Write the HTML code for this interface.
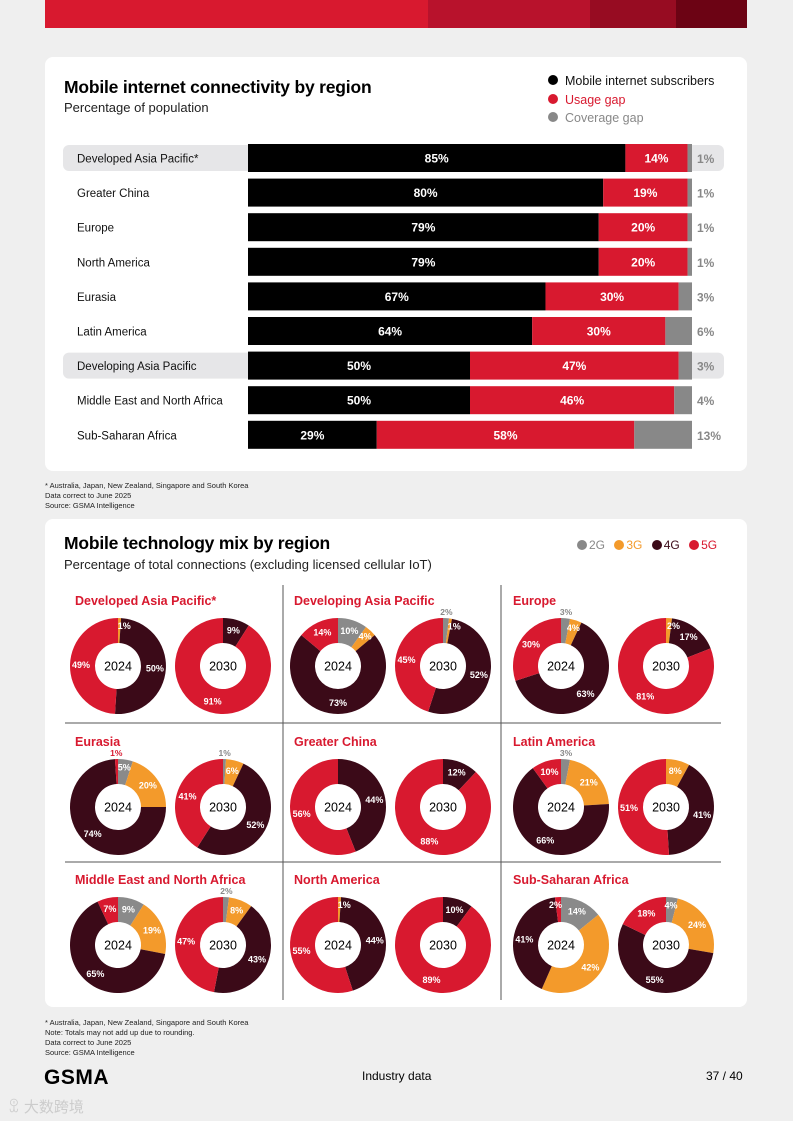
<!DOCTYPE html>
<html><head><meta charset="utf-8">
<style>
body{margin:0;width:793px;height:1121px;background:#efefef;font-family:"Liberation Sans",sans-serif;position:relative;overflow:hidden}
.abs{position:absolute}
.card{position:absolute;background:#fff;border-radius:8px}
h2{position:absolute;margin:0;font-size:17.5px;font-weight:bold;color:#000;letter-spacing:-0.2px}
.sub{position:absolute;font-size:13px;color:#222}
.note{position:absolute;left:45px;font-size:7.5px;color:#222;line-height:10px}
.lg span{margin-right:2px}
</style></head><body>
<div class="abs" style="left:45px;top:0;width:702px;height:28px;display:flex">
<div style="width:383px;background:#d8192f"></div><div style="width:162px;background:#b8122c"></div><div style="width:86px;background:#970c22"></div><div style="width:71px;background:#6c0314"></div></div>

<div class="card" style="left:45px;top:57px;width:702px;height:414px"></div>
<h2 style="left:64px;top:77px">Mobile internet connectivity by region</h2>
<div class="sub" style="left:64px;top:100px">Percentage of population</div>
<div class="abs" style="left:548px;top:72px;font-size:12.5px;line-height:18.5px">
<div><span style="display:inline-block;width:10px;height:10px;border-radius:5px;background:#000;margin-right:7px"></span><span style="color:#111">Mobile internet subscribers</span></div>
<div><span style="display:inline-block;width:10px;height:10px;border-radius:5px;background:#d8192f;margin-right:7px"></span><span style="color:#d8192f">Usage gap</span></div>
<div><span style="display:inline-block;width:10px;height:10px;border-radius:5px;background:#888;margin-right:7px"></span><span style="color:#888">Coverage gap</span></div></div>
<svg id="bars" class="abs" style="left:0;top:0" width="793" height="480"></svg>
<div class="note" style="top:481px">* Australia, Japan, New Zealand, Singapore and South Korea<br>Data correct to June 2025<br>Source: GSMA Intelligence</div>

<div class="card" style="left:45px;top:519px;width:702px;height:488px"></div>
<h2 style="left:64px;top:533px">Mobile technology mix by region</h2>
<div class="sub" style="left:64px;top:557px">Percentage of total connections (excluding licensed cellular IoT)</div>
<div class="abs lg" style="left:577px;top:538px;font-size:12px;color:#222;white-space:nowrap">
<span style="display:inline-block;width:10px;height:10px;border-radius:5px;background:#888;vertical-align:-1px"></span><span style="color:#888">2G</span>
<span style="display:inline-block;width:10px;height:10px;border-radius:5px;background:#f39a2b;vertical-align:-1px;margin-left:4px"></span><span style="color:#f39a2b">3G</span>
<span style="display:inline-block;width:10px;height:10px;border-radius:5px;background:#3b0a18;vertical-align:-1px;margin-left:4px"></span><span style="color:#3b0a18">4G</span>
<span style="display:inline-block;width:10px;height:10px;border-radius:5px;background:#d8192f;vertical-align:-1px;margin-left:4px"></span><span style="color:#d8192f">5G</span></div>
<svg id="donuts" class="abs" style="left:0;top:0" width="793" height="1010"></svg>
<div class="note" style="top:1018px">* Australia, Japan, New Zealand, Singapore and South Korea<br>Note: Totals may not add up due to rounding.<br>Data correct to June 2025<br>Source: GSMA Intelligence</div>

<div class="abs" style="left:44px;top:1066px;font-size:21px;font-weight:bold;letter-spacing:0.5px">GSMA</div>
<div class="abs" style="left:362px;top:1069px;font-size:12px">Industry data</div>
<div class="abs" style="left:706px;top:1069px;font-size:12px">37 / 40</div>
<div class="abs" style="left:8px;top:1096px;font-size:15px;color:#ccc;font-family:'Liberation Sans','Noto Sans CJK SC',sans-serif">ꀾ 大数跨境</div>

<script>
const regions=["Developed Asia Pacific*","Greater China","Europe","North America","Eurasia","Latin America","Developing Asia Pacific","Middle East and North Africa","Sub-Saharan Africa"];
const subscribers=[85,80,79,79,67,64,50,50,29];
const usageGap=[14,19,20,20,30,30,47,46,58];
const coverageGap=[1,1,1,1,3,6,3,4,13];
const highlighted=[true,false,false,false,false,false,true,false,false];

const NS="http://www.w3.org/2000/svg";
function mk(p,tag,a){const e=document.createElementNS(NS,tag);for(const k in a)e.setAttribute(k,a[k]);p.appendChild(e);return e;}
const bs=document.getElementById('bars');
const x0=248,scale=4.44;
const xb=v=>x0+v*scale;
const yb=i=>158+i*34.6;
regions.forEach((r,i)=>{
  const cy=yb(i);
  if(highlighted[i]){const p=mk(bs,'rect',{x:63,y:cy-13,width:661,height:26,rx:6,fill:'#e6e6e8'});
    
    }
  const t=mk(bs,'text',{x:77,y:cy+4.5,'font-size':11.5,fill:'#111'});t.textContent=r;
  
  
  const segs=[[subscribers[i],'#000'],[usageGap[i],'#d8192f'],[coverageGap[i],'#888']];
  let acc=0;
  segs.forEach((s,j)=>{
    const rc=mk(bs,'rect',{x:xb(acc),y:cy-14,width:s[0]*scale,height:28,fill:s[1]});
    
    
    if(j<2){const l=mk(bs,'text',{x:xb(acc+s[0]/2),y:cy+4.5,'font-size':12,'font-weight':'bold',fill:'#fff','text-anchor':'middle'});l.textContent=s[0]+'%';
      
      }
    acc+=s[0];
  });
  const l=mk(bs,'text',{x:697,y:cy+5,'font-size':12,'font-weight':'bold',fill:'#888'});l.textContent=coverageGap[i]+'%';
  
  
});

const donutRegions=["Developed Asia Pacific*","Developing Asia Pacific","Europe","Eurasia","Greater China","Latin America","Middle East and North Africa","North America","Sub-Saharan Africa"];
const mix2024=[[0,1,50,49],[10,4,73,14],[3,4,63,30],[5,20,74,1],[0,0,44,56],[3,21,66,10],[9,19,65,7],[0,1,44,55],[14,42,41,2]];
const mix2030=[[0,0,9,91],[2,1,52,45],[0,2,17,81],[1,6,52,41],[0,0,12,88],[0,8,41,51],[2,8,43,47],[0,0,10,89],[4,24,55,18]];
const techColors=['#8a8a8a','#f39a2b','#3b0a18','#d8192f'];
const ds=document.getElementById('donuts');
const colX=[65,284,503], rowY=[600,741,879];
mk(ds,'line',{x1:283,y1:585,x2:283,y2:1000,stroke:'#555','stroke-width':1});
mk(ds,'line',{x1:501,y1:585,x2:501,y2:1000,stroke:'#555','stroke-width':1});
mk(ds,'line',{x1:65,y1:723,x2:721,y2:723,stroke:'#555','stroke-width':1});
mk(ds,'line',{x1:65,y1:862,x2:721,y2:862,stroke:'#555','stroke-width':1});
function donut(cx,cy,vals,year){
  const R=48,r=23,tot=vals.reduce((a,b)=>a+b,0);let acc=0;
  const pt=(a,rad)=>[cx+rad*Math.sin(a),cy-rad*Math.cos(a)];
  const labels=[];
  vals.forEach((v,j)=>{
    if(v<=0)return;
    const a0=acc/tot*2*Math.PI,a1=(acc+v)/tot*2*Math.PI;acc+=v;
    const lg=(a1-a0)>Math.PI?1:0;
    let d;
    if(v>=tot){d=`M${cx} ${cy-R}A${R} ${R} 0 1 1 ${cx-0.01} ${cy-R}Z M${cx} ${cy-r}A${r} ${r} 0 1 0 ${cx-0.01} ${cy-r}Z`;}
    else{const p0=pt(a0,R),p1=pt(a1,R),q1=pt(a1,r),q0=pt(a0,r);
    d=`M${p0[0]} ${p0[1]}A${R} ${R} 0 ${lg} 1 ${p1[0]} ${p1[1]}L${q1[0]} ${q1[1]}A${r} ${r} 0 ${lg} 0 ${q0[0]} ${q0[1]}Z`;}
    const s=mk(ds,'path',{d:d,fill:techColors[j],'fill-rule':'evenodd'});
    
    
    labels.push([v,j,(a0+a1)/2]);
  });
  labels.forEach(([v,j,am])=>{
    const outside=(j==0&&v<=3)||(j==3&&v<=1);
    let lp=pt(am,outside?54:(v<6?40:37));
    if(!outside&&v<=2){lp=[lp[0]+(j==3?-3:5),lp[1]];}
    const t=mk(ds,'text',{x:lp[0],y:lp[1]+3,'font-size':outside?8.5:9,'font-weight':'bold','text-anchor':'middle',fill:outside?(j==3?'#d8192f':'#888'):'#fff'});
    t.textContent=v+'%';
    
    
  });
  const y=mk(ds,'text',{x:cx,y:cy+4.5,'font-size':12.5,'text-anchor':'middle',fill:'#000'});y.textContent=year;
  
  
}
donutRegions.forEach((n,i)=>{
  const c=i%3,rw=Math.floor(i/3);
  const bx=colX[c]+10,ty=rowY[rw];
  const t=mk(ds,'text',{x:bx,y:ty+5,'font-size':12.5,'font-weight':'bold',fill:'#d8192f'});t.textContent=n;
  
  
  const cx=[118,338,561][c],cy=[666,807,945][rw];
  donut(cx,cy,mix2024[i],'2024');
  donut(cx+105,cy,mix2030[i],'2030');
});
</script>
</body></html>
